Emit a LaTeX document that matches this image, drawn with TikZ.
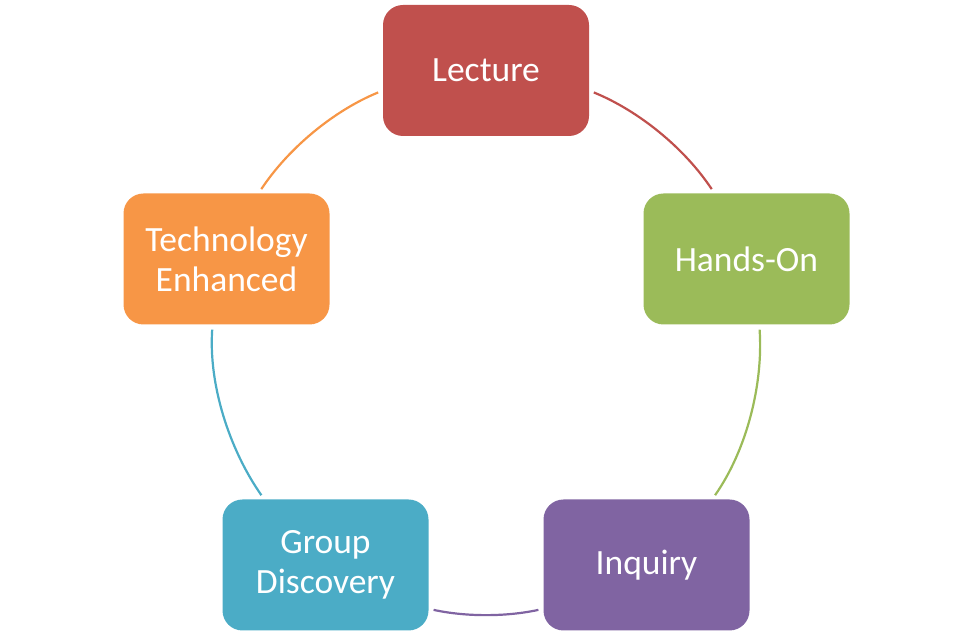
\documentclass[tikz,border=0pt]{standalone}
\usepackage{fontspec}
\setmainfont{Carlito}
\definecolor{lecred}{HTML}{C0504D}
\definecolor{handgreen}{HTML}{9BBB59}
\definecolor{inqpurple}{HTML}{8064A2}
\definecolor{grpblue}{HTML}{4BACC6}
\definecolor{techorange}{HTML}{F79646}
\tikzset{
  stage/.style={rectangle, rounded corners=20pt, minimum width=206pt,
    minimum height=131pt, inner sep=0pt, text=white, align=center,
    font=\fontsize{35.5}{40}\selectfont},
  link/.style={line width=2.2pt, shorten <=5pt, shorten >=5pt, looseness=0.85}
}

\begin{document}
\begin{tikzpicture}[x=1pt,y=1pt]
\useasboundingbox (0,0) rectangle (975,642);
\node [stage, fill=lecred] (lecture) at (486,571.5) {Lecture};
\node [stage, fill=handgreen] (handson) at (746.5,383) {Hands-On};
\node [stage, fill=inqpurple] (inquiry) at (646.5,77) {Inquiry};
\node [stage, fill=grpblue] (group) at (325.5,77) {Group\\Discovery};
\node [stage, fill=techorange] (tech) at (226.5,383) {Technology\\Enhanced};
\draw [link, lecred] (lecture.-11.1) to[out=-22.2, in=123.5] (handson.116.4);
\draw [link, handgreen] (handson.-79.8) to[out=-86.1, in=55] (inquiry.45.8);
\draw [link, inqpurple] (inquiry.203.8) to[out=-167.7, in=-12.3] (group.-23.5);
\draw [link, grpblue] (group.133.7) to[out=125, in=266.1] (tech.258.9);
\draw [link, techorange] (tech.64.3) to[out=56.5, in=202.2] (lecture.191.1);
\end{tikzpicture}
\end{document}
